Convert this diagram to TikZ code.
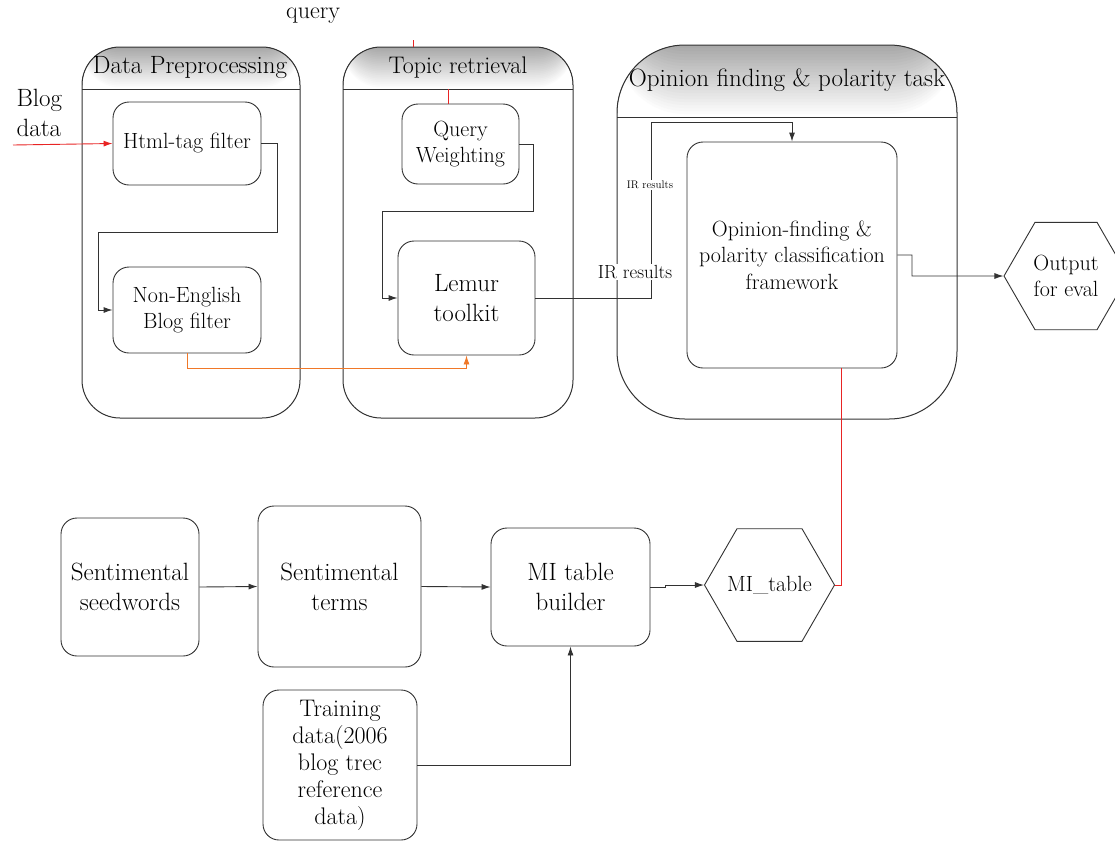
\documentclass[tikz,border=0pt]{standalone}
\usepackage{fontspec}
\usetikzlibrary{arrows.meta,shapes.geometric}
\definecolor{flowred}{RGB}{232,36,36}
\definecolor{floworange}{RGB}{240,120,40}
\definecolor{edge}{RGB}{50,50,50}
\tikzset{
  lane/.style 2 args={draw=edge, line width=1pt, rounded corners=#2,
    path picture={
      \foreach \k in {0,...,23}{
        \pgfmathsetmacro\shadeval{34*\k/23}
        \fill[black!\shadeval]
          (path picture bounding box.north west) rectangle
          ([yshift=-(24-\k)*#1/24]path picture bounding box.north east);
      }
      \draw[edge, line width=1pt]
        ([yshift=-#1]path picture bounding box.north west) --
        ([yshift=-#1]path picture bounding box.north east);}},
  box/.style={draw=edge, fill=white, line width=0.9pt, rounded corners=16pt,
    align=center, inner sep=2pt},
  hexa/.style={draw=edge, fill=white, line width=0.9pt, regular polygon,
    regular polygon sides=6, align=center, inner sep=0pt},
  flow/.style={draw=edge, line width=0.9pt, -{Latex[length=9pt,width=6pt]}},
  wire/.style={line width=0.9pt},
  fs11/.style={font=\fontsize{11}{13}\selectfont\addfontfeature{FakeBold=0.4}},
  fs19/.style={font=\fontsize{19}{23}\selectfont\addfontfeature{FakeBold=0.4}},
  fs22/.style={font=\fontsize{22}{26.5}\selectfont\addfontfeature{FakeBold=0.4}},
  fs24/.style={font=\fontsize{24}{27}\selectfont\addfontfeature{FakeBold=0.4}},
  fs25/.style={font=\fontsize{25}{30}\selectfont\addfontfeature{FakeBold=0.4}},
}
\begin{document}
\begin{tikzpicture}[x=1pt, y=-1pt]
\useasboundingbox (0,0) rectangle (1115,841);
% swim lanes
\node[lane={42pt}{38pt}, minimum width=218pt, minimum height=371pt] (prep) at (191,232.5) {};
\node[lane={42pt}{38pt}, minimum width=230pt, minimum height=371pt] (topic) at (458,232.5) {};
\node[lane={72pt}{68pt}, minimum width=340pt, minimum height=374pt] (opin) at (787,232) {};
\node[fs25] (prephead) at (190,68) {Data Preprocessing};
\node[fs24] (topichead) at (458,68) {Topic retrieval};
\node[fs25] (opinhead) at (787,80) {Opinion finding \& polarity task};
% free texts
\node[fs24] (query) at (313,16) {query};
\node[fs25, align=left, anchor=west] (blog) at (13,113) {Blog\\data};
\coordinate (blogin) at (13,145);
\coordinate (qtop) at (413,40);
\coordinate (qin) at (448,89);
% boxes
\node[box, fs22, minimum width=148pt, minimum height=83pt] (html) at (187,143.5) {Html-tag filter};
\node[box, fs22, minimum width=148pt, minimum height=86pt] (noneng) at (187,310) {Non-English\\Blog filter};
\node[box, fs22, minimum width=117pt, minimum height=80pt] (qweight) at (460.5,144) {Query\\Weighting};
\node[box, fs25, minimum width=137pt, minimum height=114pt] (lemur) at (466.5,298) {Lemur\\toolkit};
\node[box, fs22, minimum width=210pt, minimum height=226pt] (frame) at (792,255) {Opinion-finding \&\\polarity classification\\framework};
\node[hexa, fs22, minimum size=124pt] (output) at (1066,276) {Output\\for eval};
\node[box, fs25, minimum width=138pt, minimum height=138pt] (seed) at (130,587) {Sentimental\\seedwords};
\node[box, fs25, minimum width=163pt, minimum height=161pt] (terms) at (339.5,586.5) {Sentimental\\terms};
\node[box, fs24, minimum width=154pt, minimum height=150pt] (train) at (340,765) {Training\\data(2006\\blog trec\\reference\\data)};
\node[box, fs25, minimum width=159pt, minimum height=118pt] (builder) at (570.5,587) {MI table\\builder};
\node[hexa, fs22, minimum size=130pt, inner sep=-12pt] (mitable) at (769.5,585) {MI\_table};
% connectors
\draw[flow, draw=flowred] (blogin) -- (html.west);
\draw[flow] (html.east) -| (277,232) -| (98,310) -- (noneng.west);
\draw[flow, draw=floworange] (noneng.south) -- ++(0,15) -| (lemur.south);
\draw[wire, draw=flowred] (qtop) -- (qtop |- topic.north);
\draw[wire, draw=flowred] (qin) -- (qin |- qweight.north);
\draw[flow] (qweight.east) -| (533,211) -| (382,298) -- (lemur.west);
\draw[flow] (lemur.east) -| (651,122) -| (frame.north);
\draw[flow] (frame.east) -| (912,276) -- (output.west);
\draw[wire, draw=flowred] ([xshift=49pt]frame.south) |- (mitable.east);
\draw[flow] (seed.east) -- (terms.west);
\draw[flow] (terms.east) -- (builder.west);
\draw[flow] (train.east) -| (builder.south);
\draw[flow] (builder.east) -- ++(15,0) |- (mitable.west);
% labels on the IR line
\node[fs19, fill=white, inner sep=1pt] (irbig) at (635,272) {IR results};
\node[fs11, fill=white, inner sep=1pt] (irsmall) at (650,185) {IR results};
\end{tikzpicture}
\end{document}
